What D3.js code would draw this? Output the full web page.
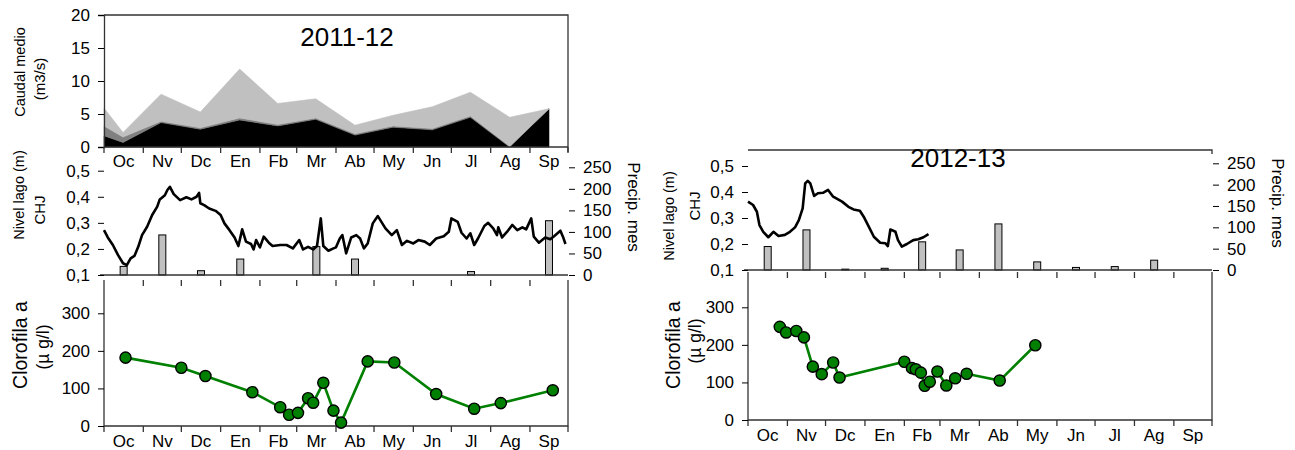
<!DOCTYPE html>
<html>
<head>
<meta charset="utf-8">
<script src="https://cdn.jsdelivr.net/npm/d3@7"></script>
<style>
  body { margin: 0; background: #fff; }
  svg text { font-family: "Liberation Sans", Arial, sans-serif; fill: #000; }
</style>
</head>
<body>
<div id="chart"></div>
<script>
// meses del año hidrologico
var meses = ["Oc", "Nv", "Dc", "En", "Fb", "Mr", "Ab", "My", "Jn", "Jl", "Ag", "Sp"];

// caudal medio 2011-12 (dias desde 1 oct), tres componentes apiladas
var diasCaudal = [0, 15, 45, 76, 107, 137, 167, 198, 228, 259, 289, 320, 351];
var caudalNegro = [1.7, 0.7, 3.7, 2.7, 4.1, 3.2, 4.2, 1.8, 3.0, 2.6, 4.5, 0, 5.8];
var caudalGris = [1.5, 0.8, 0.2, 0.2, 0.3, 0.2, 0.2, 0.2, 0.2, 0.2, 0.2, 0.1, 0];
var caudalClaro = [2.7, 0.7, 4.1, 2.4, 7.4, 3.2, 2.9, 1.3, 1.6, 3.3, 3.6, 4.4, 0];

// precipitacion mensual (mm)
var precip1112 = [20, 93, 10, 37, 0, 66, 37, 0, 0, 8, 0, 126];
var precip1213 = [55, 94, 2, 4, 66, 47, 108, 19, 6, 8, 23, 0];

// nivel del lago CHJ (m)
var diasNivel1112 = [0, 3, 7, 11, 15, 18, 21, 24, 27, 30, 34, 38, 42, 44, 48, 50, 52, 55, 60, 65, 69, 73, 75, 76, 79, 83, 88, 92, 95, 99, 103, 106, 109, 112, 116, 118, 120, 123, 126, 130, 133, 139, 144, 149, 154, 157, 161, 165, 168, 171, 173, 177, 181, 183, 186, 188, 191, 195, 199, 202, 205, 208, 212, 216, 222, 227, 231, 235, 239, 244, 248, 253, 257, 262, 268, 272, 274, 279, 282, 286, 289, 292, 295, 300, 303, 307, 310, 311, 314, 318, 322, 326, 330, 333, 337, 339, 343, 348, 352, 355, 360, 362, 364];
var nivel1112 = [0.272, 0.244, 0.215, 0.177, 0.145, 0.138, 0.164, 0.173, 0.208, 0.253, 0.285, 0.33, 0.362, 0.39, 0.406, 0.426, 0.438, 0.41, 0.387, 0.398, 0.39, 0.4, 0.415, 0.375, 0.368, 0.355, 0.346, 0.33, 0.298, 0.272, 0.244, 0.211, 0.275, 0.228, 0.219, 0.198, 0.234, 0.206, 0.247, 0.224, 0.211, 0.215, 0.215, 0.202, 0.234, 0.198, 0.208, 0.198, 0.211, 0.317, 0.211, 0.193, 0.202, 0.206, 0.24, 0.253, 0.183, 0.244, 0.253, 0.24, 0.202, 0.221, 0.298, 0.326, 0.279, 0.253, 0.272, 0.215, 0.231, 0.221, 0.234, 0.228, 0.215, 0.24, 0.249, 0.266, 0.317, 0.304, 0.262, 0.24, 0.26, 0.215, 0.24, 0.288, 0.3, 0.279, 0.253, 0.283, 0.244, 0.266, 0.292, 0.272, 0.283, 0.275, 0.317, 0.247, 0.224, 0.244, 0.237, 0.249, 0.27, 0.247, 0.219];
var diasNivel1213 = [0, 4, 7, 9, 12, 16, 20, 24, 29, 33, 37, 40, 43, 45, 47, 49, 52, 55, 59, 63, 67, 74, 79, 83, 88, 91, 95, 99, 104, 108, 110, 112, 116, 118, 121, 125, 130, 134, 138, 142];
var nivel1213 = [0.363, 0.35, 0.324, 0.273, 0.247, 0.226, 0.247, 0.231, 0.235, 0.247, 0.264, 0.292, 0.337, 0.433, 0.443, 0.433, 0.385, 0.395, 0.397, 0.408, 0.382, 0.363, 0.343, 0.333, 0.328, 0.305, 0.267, 0.228, 0.205, 0.203, 0.192, 0.256, 0.247, 0.215, 0.19, 0.2, 0.215, 0.218, 0.226, 0.238];

// clorofila a (µg/l)
var diasClorofila1112 = [17, 61, 80, 117, 139, 146, 153, 161, 165, 173, 181, 187, 208, 229, 262, 292, 313, 354];
var clorofila1112 = [182, 155, 133, 90, 50, 30, 35, 74, 62, 115, 41, 9, 172, 169, 85, 46, 61, 95];
var diasClorofila1213 = [25, 30, 38, 44, 51, 58, 67, 72, 123, 129, 132, 136, 139, 143, 149, 156, 163, 172, 198, 226];
var clorofila1213 = [248, 233, 237, 220, 142, 122, 153, 113, 155, 138, 135, 126, 91, 102, 129, 92, 111, 123, 105, 199];

var W = 1295, H = 450;
var svg = d3.select("#chart").append("svg").attr("width", W).attr("height", H);

var coma = function(d) { return d3.format(".1f")(d).replace(".", ","); };

function fecha(inicio, d) { return d3.timeDay.offset(inicio, d); }

function etiquetaVertical(g, txt, x, y, rot, size) {
  g.append("text")
    .attr("transform", "translate(" + x + "," + y + ") rotate(" + rot + ")")
    .attr("text-anchor", "middle")
    .style("font-size", size + "px")
    .text(txt);
}

function dibujar(cfg) {
  var g = svg.append("g");
  var x = d3.scaleTime().domain([cfg.inicio, cfg.fin]).range([cfg.L, cfg.R]);
  var mesesT = d3.timeMonth.range(cfg.inicio, cfg.fin);
  var bordes = mesesT.concat([cfg.fin]);
  var centro = function(m) { return (x(m) + x(d3.timeMonth.offset(m, 1))) / 2; };

  // ---- caudal (solo 2011-12)
  if (cfg.caudal) {
    var yC = d3.scaleLinear().domain([0, 20]).range([cfg.cBot, cfg.cTop]);
    var filas = diasCaudal.map(function(d, i) {
      return { fecha: fecha(cfg.inicio, d), negro: caudalNegro[i], gris: caudalGris[i], claro: caudalClaro[i] };
    });
    var capas = d3.stack().keys(["negro", "gris", "claro"])(filas);
    var colores = { negro: "#000", gris: "#808080", claro: "#c0c0c0" };
    var area = d3.area()
      .x(function(d) { return x(d.data.fecha); })
      .y0(function(d) { return yC(d[0]); })
      .y1(function(d) { return yC(d[1]); });
    g.selectAll("path.capa").data(capas).join("path")
      .attr("class", "capa")
      .attr("d", area)
      .attr("fill", function(d) { return colores[d.key]; })
      .attr("stroke", function(d) { return colores[d.key]; })
      .attr("stroke-width", 0.6);

    g.append("path")
      .attr("d", "M" + cfg.L + "," + cfg.cTop + "H" + cfg.R + "V" + (cfg.cBot + 5))
      .attr("fill", "none").attr("stroke", "#333").attr("stroke-width", 1.3);

    var ejeC = g.append("g").attr("transform", "translate(" + cfg.L + ",0)")
      .call(d3.axisLeft(yC).tickValues([0, 5, 10, 15, 20]).tickSize(6).tickPadding(8));
    ejeC.select(".domain").attr("stroke", "#333").attr("stroke-width", 1.3);
    ejeC.selectAll("text").style("font-size", "17px").attr("font-family", null);

    g.append("line").attr("x1", cfg.L).attr("x2", cfg.R).attr("y1", cfg.cBot).attr("y2", cfg.cBot)
      .attr("stroke", "#333").attr("stroke-width", 1.3);
    g.selectAll("line.tc").data(bordes).join("line").attr("class", "tc")
      .attr("x1", function(d) { return x(d); }).attr("x2", function(d) { return x(d); })
      .attr("y1", cfg.cBot).attr("y2", cfg.cBot + 6)
      .attr("stroke", "#333").attr("stroke-width", 1.3);
    g.selectAll("text.mc").data(mesesT).join("text").attr("class", "mc")
      .attr("x", centro).attr("y", cfg.cBot + 20)
      .attr("text-anchor", "middle").style("font-size", "17px")
      .text(function(d, i) { return meses[i]; });

    etiquetaVertical(g, "Caudal medio", 25, 72, -90, 14.5);
    etiquetaVertical(g, "(m3/s)", 45, 79, -90, 15);
  }

  if (cfg.marcoSup) {
    g.append("path")
      .attr("d", "M" + cfg.L + "," + cfg.marcoSup + "H" + cfg.R + "V" + (cfg.marcoSup + 4))
      .attr("fill", "none").attr("stroke", "#333").attr("stroke-width", 1.3);
  }

  g.append("text").attr("x", cfg.tituloX).attr("y", cfg.tituloY)
    .attr("text-anchor", "middle").style("font-size", "26px").text(cfg.titulo);

  // ---- nivel + precipitacion
  var yN = d3.scaleLinear().domain([0.1, 0.5]).range([cfg.nBot, cfg.nTop]);
  var yP = d3.scaleLinear().domain([0, 250]).range([cfg.nBot, cfg.pTop]);

  g.selectAll("rect.pp").data(cfg.precip).join("rect").attr("class", "pp")
    .attr("x", function(d, i) { return centro(mesesT[i]) - 3.5; })
    .attr("width", 7)
    .attr("y", function(d) { return yP(d); })
    .attr("height", function(d) { return cfg.nBot - yP(d); })
    .attr("fill", "#c0c0c0").attr("stroke", "#000").attr("stroke-width", 1);

  var puntosN = cfg.diasNivel.map(function(d, i) { return [fecha(cfg.inicio, d), cfg.nivel[i]]; });
  g.append("path").datum(puntosN)
    .attr("d", d3.line().x(function(d) { return x(d[0]); }).y(function(d) { return yN(d[1]); }))
    .attr("fill", "none").attr("stroke", "#000").attr("stroke-width", 2.6).attr("stroke-linejoin", "round");

  g.append("line").attr("x1", cfg.L - 4).attr("x2", cfg.R).attr("y1", cfg.nBot).attr("y2", cfg.nBot)
    .attr("stroke", "#333").attr("stroke-width", 1.3);

  var ejeN = g.append("g").attr("transform", "translate(" + cfg.L + ",0)")
    .call(d3.axisLeft(yN).tickValues([0.1, 0.2, 0.3, 0.4, 0.5]).tickFormat(coma).tickSize(6).tickPadding(8));
  ejeN.select(".domain").remove();
  ejeN.selectAll("text").style("font-size", "17px").attr("font-family", null);

  var ejeP = g.append("g").attr("transform", "translate(" + (cfg.R + 1) + ",0)")
    .call(d3.axisRight(yP).tickValues([0, 50, 100, 150, 200, 250]).tickSize(6).tickPadding(8));
  ejeP.select(".domain").remove();
  ejeP.selectAll("text").style("font-size", "17px").attr("font-family", null);

  etiquetaVertical(g, "Nivel lago (m)", cfg.L - cfg.dNivel, cfg.nivelY, -90, 14.5);
  etiquetaVertical(g, "CHJ", cfg.L - cfg.dChj, cfg.chjY, -90, 15);
  etiquetaVertical(g, "Precip. mes", cfg.R + 60, cfg.precipY, 90, 17);

  // ---- clorofila
  var yK = d3.scaleLinear().domain([0, 300]).range([cfg.kBot, cfg.k300]);
  g.append("path")
    .attr("d", "M" + cfg.L + "," + cfg.kTop + "V" + cfg.kBot + "H" + cfg.R + "V" + cfg.kTop)
    .attr("fill", "none").attr("stroke", "#333").attr("stroke-width", 1.3);
  g.selectAll("line.tk").data(bordes.slice(1, -1)).join("line").attr("class", "tk")
    .attr("x1", function(d) { return x(d); }).attr("x2", function(d) { return x(d); })
    .attr("y1", cfg.kTop).attr("y2", cfg.kTop + 6)
    .attr("stroke", "#333").attr("stroke-width", 1.3);
  g.selectAll("line.bk").data(bordes).join("line").attr("class", "bk")
    .attr("x1", function(d) { return x(d); }).attr("x2", function(d) { return x(d); })
    .attr("y1", cfg.kBot).attr("y2", cfg.kBot + 6)
    .attr("stroke", "#333").attr("stroke-width", 1.3);
  g.selectAll("text.mk").data(mesesT).join("text").attr("class", "mk")
    .attr("x", centro).attr("y", cfg.kBot + 21)
    .attr("text-anchor", "middle").style("font-size", "17px")
    .text(function(d, i) { return meses[i]; });

  var ejeK = g.append("g").attr("transform", "translate(" + cfg.L + ",0)")
    .call(d3.axisLeft(yK).tickValues([0, 100, 200, 300]).tickSize(6).tickPadding(8));
  ejeK.select(".domain").remove();
  ejeK.selectAll("text").style("font-size", "17px").attr("font-family", null);

  var puntosK = cfg.diasClor.map(function(d, i) { return [fecha(cfg.inicio, d), cfg.clor[i]]; });
  g.append("path").datum(puntosK)
    .attr("d", d3.line().x(function(d) { return x(d[0]); }).y(function(d) { return yK(d[1]); }))
    .attr("fill", "none").attr("stroke", "#008000").attr("stroke-width", 2.6);
  g.selectAll("circle.k").data(puntosK).join("circle").attr("class", "k")
    .attr("cx", function(d) { return x(d[0]); }).attr("cy", function(d) { return yK(d[1]); })
    .attr("r", 5.6).attr("fill", "#008000").attr("stroke", "#000").attr("stroke-width", 1.4);

  etiquetaVertical(g, "Clorofila a", cfg.L - cfg.dClor, cfg.clorY, -90, 19.5);
  etiquetaVertical(g, "(\u00b5 g/l)", cfg.L - cfg.dUg, cfg.ugY, -90, 17.5);
}

dibujar({
  inicio: new Date(2011, 9, 1), fin: new Date(2012, 9, 1),
  L: 104, R: 568, caudal: true, cTop: 15, cBot: 147,
  titulo: "2011-12", tituloX: 347, tituloY: 46,
  nBot: 275, nTop: 170.7, pTop: 167.3,
  dNivel: 80, dChj: 59, nivelY: 195, chjY: 210, precipY: 207,
  precip: precip1112, diasNivel: diasNivel1112, nivel: nivel1112,
  kTop: 280, kBot: 426, k300: 313.3,
  dClor: 77, dUg: 55, clorY: 345, ugY: 347,
  diasClor: diasClorofila1112, clor: clorofila1112
});

dibujar({
  inicio: new Date(2012, 9, 1), fin: new Date(2013, 9, 1),
  L: 748, R: 1212, caudal: false, marcoSup: 150,
  titulo: "2012-13", tituloX: 958, tituloY: 167,
  nBot: 270, nTop: 166, pTop: 163.3,
  dNivel: 74, dChj: 48, nivelY: 216, chjY: 206, precipY: 203,
  precip: precip1213, diasNivel: diasNivel1213, nivel: nivel1213,
  kTop: 272, kBot: 420, k300: 307.3,
  dClor: 68, dUg: 47, clorY: 345, ugY: 341,
  diasClor: diasClorofila1213, clor: clorofila1213
});
</script>
</body>
</html>
